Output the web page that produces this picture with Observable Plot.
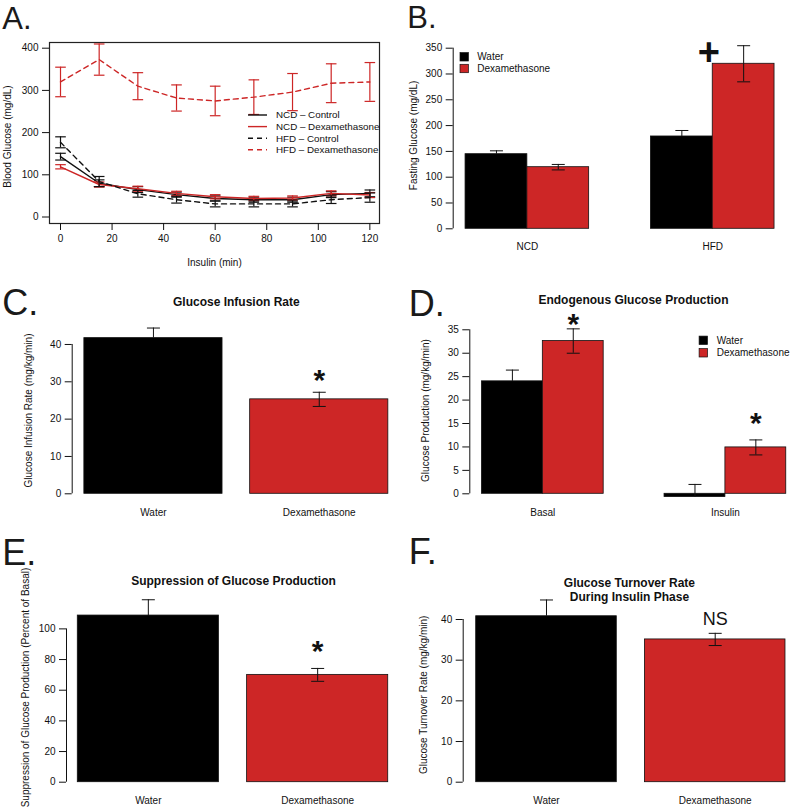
<!DOCTYPE html>
<html><head><meta charset="utf-8">
<script src="https://cdn.jsdelivr.net/npm/d3@7"></script>
<script src="https://cdn.jsdelivr.net/npm/@observablehq/plot@0.6"></script>
<style>
body{margin:0;background:#fff;}
#fig{position:relative;width:793px;height:807px;overflow:hidden;background:#fff;}
</style></head><body><div id="fig"></div>
<script>
const FONT = '"Liberation Sans", Arial, Helvetica, sans-serif';
const RED = "#CD2626";
const INK = "#111";

// ---------- Panel A: blood glucose during clamp ----------
const timeMin = [0, 15, 30, 45, 60, 75, 90, 105, 120];
const ncdControlMean = [143, 80, 65, 53, 44, 41, 41, 53, 56];
const ncdControlSE   = [8, 8, 7, 6, 6, 6, 6, 7, 8];
const ncdDexMean     = [119, 77, 67, 56, 48, 44, 45, 56, 52];
const ncdDexSE       = [5, 6, 6, 5, 5, 5, 5, 6, 6];
const hfdControlMean = [177, 84, 55, 41, 31, 31, 31, 41, 46];
const hfdControlSE   = [13, 12, 8, 8, 7, 7, 7, 9, 11];
const hfdDexMean     = [320, 373, 310, 282, 275, 284, 296, 317, 320];
const hfdDexSE       = [35, 37, 32, 31, 35, 41, 44, 46, 46];
const aXTicks = [0, 20, 40, 60, 80, 100, 120];
const aYTicks = [0, 100, 200, 300, 400];
const aSeriesNames = ["NCD – Control", "NCD – Dexamethasone", "HFD – Control", "HFD – Dexamethasone"];

// ---------- Panel B: fasting glucose ----------
const dietGroups = ["NCD", "HFD"];
const treatments = ["Water", "Dexamethasone"];
const fastingWater = [144.6, 178.9];
const fastingWaterSE = [6.5, 11.6];
const fastingDex = [119.4, 319.8];
const fastingDexSE = [5.3, 35];
const bYTicks = [0, 50, 100, 150, 200, 250, 300, 350];

// ---------- Panel C: glucose infusion rate ----------
const girMean = [41.7, 25.3];
const girSE = [2.7, 1.9];
const cYTicks = [0, 10, 20, 30, 40];

// ---------- Panel D: endogenous glucose production ----------
const phases = ["Basal", "Insulin"];
const egpWater = [24.0, -0.7];
const egpWaterSE = [2.4, 2.7];
const egpDex = [32.6, 9.9];
const egpDexSE = [2.6, 1.6];
const dYTicks = [0, 5, 10, 15, 20, 25, 30, 35];

// ---------- Panel E: suppression of glucose production ----------
const suppMean = [108.7, 70.0];
const suppSE = [10.3, 4.2];
const eYTicks = [0, 20, 40, 60, 80, 100];

// ---------- Panel F: glucose turnover rate ----------
const turnMean = [40.8, 35.1];
const turnSE = [4.0, 1.5];
const fYTicks = [0, 10, 20, 30, 40];

// ---------- helpers ----------
const fig = document.getElementById("fig");
const capSymbol = {draw(ctx, size) { const r = Math.sqrt(size / Math.PI); ctx.moveTo(-r, 0); ctx.lineTo(r, 0); }};

function place(svg, left, top) {
  svg.style.position = "absolute";
  svg.style.left = left + "px";
  svg.style.top = top + "px";
  svg.style.overflow = "visible";
  svg.style.background = "transparent";
  fig.append(svg);
  return svg;
}
const letterMark = (t, dx, dy, size) => Plot.text([t], {frameAnchor: "top-left", text: d => d, dx, dy, fontSize: size, lineAnchor: "top", textAnchor: "start", fill: "#1a1a1a"});
const titleMark = (t, dx, dy) => Plot.text([t], {frameAnchor: "top", text: d => d, dx, dy, fontSize: 12, fontWeight: "bold", lineHeight: 1.17, textAnchor: "middle"});
const yLabelMark = (t, dx, dy) => Plot.text([t], {frameAnchor: "left", text: d => d, rotate: -90, dx, dy, fontSize: 10, textAnchor: "middle", lineAnchor: "middle"});

function addSquareLegend(svg, x, ys, textX) {
  const g = d3.select(svg).append("g").attr("font-family", FONT).attr("font-size", 10).attr("fill", INK).attr("text-anchor", "start");
  treatments.forEach((t, i) => {
    g.append("rect").attr("x", x - 4.2).attr("y", ys[i] - 4.2).attr("width", 8.4).attr("height", 8.4)
      .attr("fill", i === 0 ? "#000" : RED).attr("stroke", INK).attr("stroke-width", 0.7);
    g.append("text").attr("x", textX).attr("y", ys[i]).attr("dy", "0.35em").attr("text-anchor", "start").text(t);
  });
}

function barPanel(cfg) {
  const bars = cfg.bars;
  const cx = b => (b.x1 + b.x2) / 2;
  const caps = bars.flatMap(b => b.upperOnly
    ? [{x: cx(b), y: b.mean + b.se}]
    : [{x: cx(b), y: b.mean + b.se}, {x: cx(b), y: b.mean - b.se}]);
  const marks = [
    Plot.rectY(bars, {x1: "x1", x2: "x2", y1: 0, y2: "mean", fill: "treatment", stroke: INK, strokeWidth: 0.8, inset: 0}),
    Plot.ruleX(bars, {x: cx, y1: b => b.upperOnly ? b.mean : b.mean - b.se, y2: b => b.mean + b.se, stroke: INK, strokeWidth: 1}),
    Plot.dot(caps, {x: "x", y: "y", symbol: capSymbol, r: 6.5, fill: "none", stroke: INK, strokeWidth: 1}),
    Plot.ruleX([cfg.xDomain[0]], {x: d => d, y1: cfg.yTicks[0], y2: cfg.yTicks[cfg.yTicks.length - 1], stroke: INK, strokeWidth: 1}),
    Plot.axisY({ticks: cfg.yTicks, tickSize: 7, tickPadding: 4, label: null}),
    Plot.text(cfg.xLabels, {x: "x", y: () => 0, text: "text", dy: cfg.xLabelDy, fontSize: 10}),
    letterMark(cfg.letter, cfg.letterDx, cfg.letterDy, cfg.letterSize),
    yLabelMark(cfg.yLabel, cfg.yLabelDx, cfg.yLabelDy),
    ...(cfg.title ? [titleMark(cfg.title, cfg.titleDx || 0, cfg.titleDy)] : []),
    ...cfg.annotations.map(a => Plot.text([a], {x: "x", y: "y", text: "text", dx: a.dx || 0, dy: a.dy, fontSize: a.size, fontWeight: a.weight || "bold"}))
  ];
  const svg = Plot.plot({
    width: cfg.width, height: cfg.height,
    marginLeft: cfg.m[0], marginRight: cfg.m[1], marginTop: cfg.m[2], marginBottom: cfg.m[3],
    x: {domain: cfg.xDomain, axis: null},
    y: {domain: cfg.yDomain, axis: null, label: null},
    color: {domain: treatments, range: ["#000", RED]},
    style: {fontFamily: FONT, fontSize: "10px", color: INK, background: "transparent", overflow: "visible"},
    marks
  });
  return place(svg, cfg.left, cfg.top);
}

// ---------- Panel A ----------
(function () {
  const series = [
    {name: aSeriesNames[0], mean: ncdControlMean, se: ncdControlSE, stroke: INK, dash: null},
    {name: aSeriesNames[1], mean: ncdDexMean, se: ncdDexSE, stroke: RED, dash: null},
    {name: aSeriesNames[2], mean: hfdControlMean, se: hfdControlSE, stroke: INK, dash: "5,4"},
    {name: aSeriesNames[3], mean: hfdDexMean, se: hfdDexSE, stroke: RED, dash: "5,4"}
  ];
  const marks = [Plot.frame({stroke: "#222", strokeWidth: 1.2})];
  for (const s of series) {
    const rows = timeMin.map((t, i) => ({t, mean: s.mean[i], se: s.se[i]}));
    marks.push(
      Plot.line(rows, {x: "t", y: "mean", stroke: s.stroke, strokeWidth: 1.4, strokeDasharray: s.dash}),
      Plot.ruleX(rows, {x: "t", y1: d => d.mean - d.se, y2: d => d.mean + d.se, stroke: s.stroke, strokeWidth: 1.2}),
      Plot.dot(rows, {x: "t", y: d => d.mean + d.se, symbol: capSymbol, r: 5.3, fill: "none", stroke: s.stroke, strokeWidth: 1.2}),
      Plot.dot(rows, {x: "t", y: d => d.mean - d.se, symbol: capSymbol, r: 5.3, fill: "none", stroke: s.stroke, strokeWidth: 1.2})
    );
  }
  marks.push(
    Plot.axisX({ticks: aXTicks, tickSize: 7, tickPadding: 4, label: null}),
    Plot.axisY({ticks: aYTicks, tickSize: 7, tickPadding: 4, label: null}),
    letterMark("A.", -47.3, -36, 31),
    yLabelMark("Blood Glucose (mg/dL)", -41.5, 3.5),
    Plot.text(["Insulin (min)"], {frameAnchor: "bottom", text: d => d, dy: 42, fontSize: 10, textAnchor: "middle"})
  );
  const svg = Plot.plot({
    width: 400, height: 270,
    marginLeft: 49, marginRight: 21, marginTop: 42, marginBottom: 47,
    x: {domain: [-4.27, 123.74], axis: null},
    y: {domain: [-15.4, 413.5], axis: null, label: null},
    style: {fontFamily: FONT, fontSize: "10px", color: INK, background: "transparent", overflow: "visible"},
    marks
  });
  place(svg, 0, 0);
  const g = d3.select(svg).append("g").attr("font-family", FONT).attr("font-size", 9.8).attr("fill", INK).attr("text-anchor", "start");
  series.forEach((s, i) => {
    const y = 115 + i * 11.6;
    g.append("line").attr("x1", 248).attr("x2", 267).attr("y1", y).attr("y2", y)
      .attr("stroke", s.stroke).attr("stroke-width", 1.4).attr("stroke-dasharray", s.dash);
    g.append("text").attr("x", 276).attr("y", y).attr("dy", "0.35em").attr("text-anchor", "start").text(s.name);
  });
})();

// ---------- Panel B ----------
(function () {
  const bars = [];
  dietGroups.forEach((g, gi) => {
    bars.push({x1: 1 + 3 * gi, x2: 2 + 3 * gi, mean: fastingWater[gi], se: fastingWaterSE[gi], treatment: treatments[0], upperOnly: true});
    bars.push({x1: 2 + 3 * gi, x2: 3 + 3 * gi, mean: fastingDex[gi], se: fastingDexSE[gi], treatment: treatments[1], upperOnly: false});
  });
  const svg = barPanel({
    left: 400, top: 0, width: 393, height: 270, m: [52.7, 6.6, 40, 41.7],
    xDomain: [0.8, 6.2], yDomain: [0, 364.9], yTicks: bYTicks, bars,
    xLabels: dietGroups.map((g, gi) => ({x: 2 + 3 * gi, text: g})), xLabelDy: 18.4,
    letter: "B.", letterDx: -46, letterDy: -35, letterSize: 31,
    yLabel: "Fasting Glucose (mg/dL)", yLabelDx: -39.2, yLabelDy: 0.8,
    annotations: [{x: 5, y: fastingDex[1] + fastingDexSE[1], text: "+", dx: -4, dy: 7, size: 38}]
  });
  addSquareLegend(svg, 64.2, [56.8, 68.5], 77.3);
})();

// ---------- Panel C ----------
barPanel({
  left: 0, top: 270, width: 400, height: 270, m: [71.7, 0, 45, 46.7],
  xDomain: [0.112, 2.488], yDomain: [0, 47.76], yTicks: cYTicks,
  bars: treatments.map((t, i) => ({x1: 0.2 + 1.2 * i, x2: 1.2 + 1.2 * i, mean: girMean[i], se: girSE[i], treatment: t, upperOnly: i === 0})),
  xLabels: treatments.map((t, i) => ({x: 0.7 + 1.2 * i, text: t})), xLabelDy: 18.7,
  letter: "C.", letterDx: -70, letterDy: -25.7, letterSize: 36,
  yLabel: "Glucose Infusion Rate (mg/kg/min)", yLabelDx: -43.4, yLabelDy: 5.85,
  title: "Glucose Infusion Rate", titleDy: -19,
  annotations: [{x: 1.9, y: girMean[1] + girSE[1], text: "*", dy: -12.1, size: 30}]
});

// ---------- Panel D ----------
(function () {
  const bars = [];
  phases.forEach((p, gi) => {
    bars.push({x1: 1 + 3 * gi, x2: 2 + 3 * gi, mean: egpWater[gi], se: egpWaterSE[gi], treatment: treatments[0], upperOnly: true});
    bars.push({x1: 2 + 3 * gi, x2: 3 + 3 * gi, mean: egpDex[gi], se: egpDexSE[gi], treatment: treatments[1], upperOnly: false});
  });
  const svg = barPanel({
    left: 400, top: 270, width: 393, height: 270, m: [69.3, 0, 45, 46.7],
    xDomain: [0.8, 6.119], yDomain: [0, 38.05], yTicks: dYTicks, bars,
    xLabels: phases.map((p, gi) => ({x: 2 + 3 * gi, text: p})), xLabelDy: 18.7,
    letter: "D.", letterDx: -61, letterDy: -25, letterSize: 36,
    yLabel: "Glucose Production (mg/kg/min)", yLabelDx: -44, yLabelDy: 5.85,
    title: "Endogenous Glucose Production", titleDx: 1.8, titleDy: -21.5,
    annotations: [
      {x: 2.5, y: egpDex[0] + egpDexSE[0], text: "*", dy: -4.9, size: 30},
      {x: 5.5, y: egpDex[1] + egpDexSE[1], text: "*", dy: -17, size: 30}
    ]
  });
  addSquareLegend(svg, 303.3, [70.3, 82.8], 316.7);
})();

// ---------- Panel E ----------
barPanel({
  left: 0, top: 540, width: 400, height: 267, m: [66, 0, 45, 25.3],
  xDomain: [0.12, 2.487], yDomain: [0, 128.3], yTicks: eYTicks,
  bars: treatments.map((t, i) => ({x1: 0.2 + 1.2 * i, x2: 1.2 + 1.2 * i, mean: suppMean[i], se: suppSE[i], treatment: t, upperOnly: i === 0})),
  xLabels: treatments.map((t, i) => ({x: 0.7 + 1.2 * i, text: t})), xLabelDy: 18.3,
  letter: "E.", letterDx: -64.3, letterDy: -46, letterSize: 36,
  yLabel: "Suppression of Glucose Production (Percent of Basal)", yLabelDx: -40.7, yLabelDy: 3.7,
  title: "Suppression of Glucose Production", titleDy: -10,
  annotations: [{x: 1.9, y: suppMean[1] + suppSE[1], text: "*", dy: -16.6, size: 30}]
});

// ---------- Panel F ----------
barPanel({
  left: 400, top: 540, width: 393, height: 267, m: [62.7, 0, 45, 25.3],
  xDomain: [0.1075, 2.457], yDomain: [0, 48.36], yTicks: fYTicks,
  bars: treatments.map((t, i) => ({x1: 0.2 + 1.2 * i, x2: 1.2 + 1.2 * i, mean: turnMean[i], se: turnSE[i], treatment: t, upperOnly: i === 0})),
  xLabels: treatments.map((t, i) => ({x: 0.7 + 1.2 * i, text: t})), xLabelDy: 18.3,
  letter: "F.", letterDx: -54.4, letterDy: -47, letterSize: 36,
  yLabel: "Glucose Turnover Rate (mg/kg/min)", yLabelDx: -39.4, yLabelDy: 11,
  title: "Glucose Turnover Rate\nDuring Insulin Phase", titleDx: 1.1, titleDy: -8.7,
  annotations: [{x: 1.9, y: turnMean[1] + turnSE[1], text: "NS", dy: -14.5, size: 18, weight: "normal"}]
});
</script></body></html>
